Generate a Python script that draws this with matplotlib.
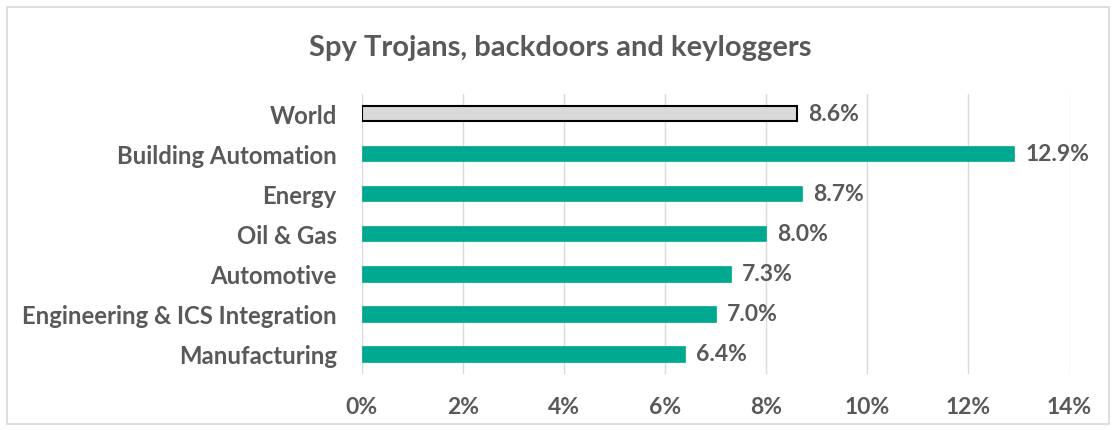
import matplotlib.pyplot as plt
from matplotlib.patches import Rectangle
from matplotlib.ticker import FuncFormatter

plt.rcParams['font.family'] = ['Lato', 'DejaVu Sans']

categories = ['World', 'Building Automation', 'Energy', 'Oil & Gas',
              'Automotive', 'Engineering & ICS Integration', 'Manufacturing']
values = [8.6, 12.9, 8.7, 8.0, 7.3, 7.0, 6.4]
xticks = [0, 2, 4, 6, 8, 10, 12, 14]

text_color = '#595959'
teal = '#00A88F'

fig = plt.figure(figsize=(11.2, 4.31), dpi=100)
ax = fig.add_axes([0.323, 0.130, 0.632, 0.650])

y = list(range(len(categories)))
colors = ['#D9D9D9'] + [teal] * (len(categories) - 1)
edges = ['black'] + [teal] * (len(categories) - 1)
widths = [1.5] + [0.5] * (len(categories) - 1)
bars = ax.barh(y, values, height=0.38, color=colors, edgecolor=edges,
               linewidth=widths, zorder=3)

for b, v in zip(bars, values):
    ax.text(v + 0.22, b.get_y() + b.get_height() / 2, f'{v:.1f}%',
            va='center', ha='left', fontsize=16.5, fontweight='bold',
            color=text_color)

ax.set_ylim(len(categories) - 0.5, -0.5)
ax.set_xlim(0, 14)
ax.set_xticks(xticks)
ax.xaxis.set_major_formatter(FuncFormatter(lambda v, p: f'{v:.0f}%'))
ax.set_yticks(y)
ax.set_yticklabels(categories)
ax.grid(axis='x', color='#D9D9D9', linewidth=1, zorder=0)
for s in ax.spines.values():
    s.set_visible(False)
ax.tick_params(length=0, labelsize=16.5, colors=text_color)
ax.tick_params(axis='x', pad=16)
ax.tick_params(axis='y', pad=18, labelsize=17.2)
for lab in ax.get_xticklabels() + ax.get_yticklabels():
    lab.set_fontweight('bold')

fig.text(0.5, 0.888, 'Spy Trojans, backdoors and keyloggers', ha='center',
         va='center', fontsize=21, fontweight='bold', color=text_color)

fig.patches.append(Rectangle((0.006, 0.014), 0.984, 0.968, transform=fig.transFigure,
                             fill=False, edgecolor='#D9D9D9', linewidth=1.2))

fig.savefig('out.png', dpi=100)
